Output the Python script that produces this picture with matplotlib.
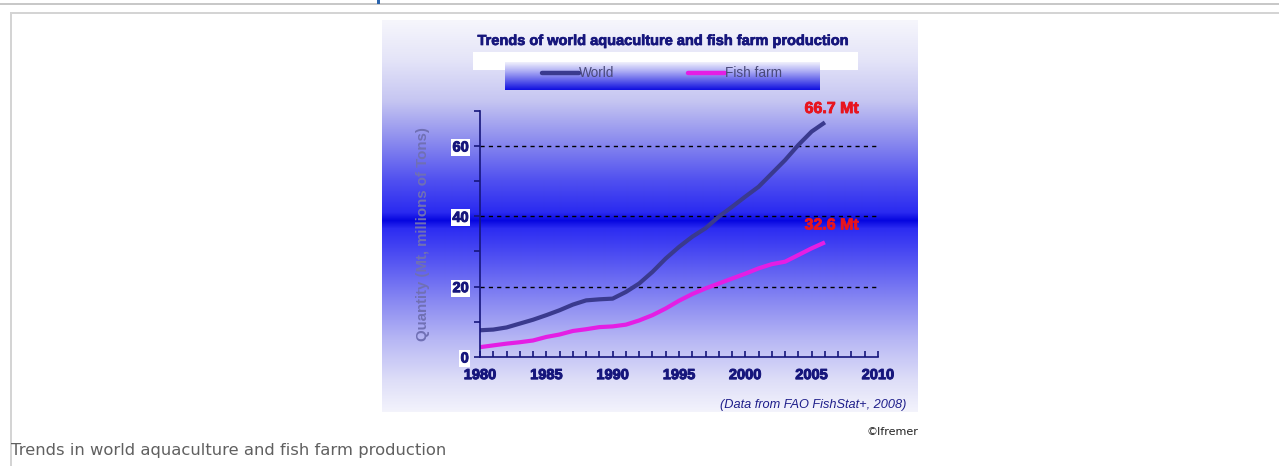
import numpy as np
import matplotlib
matplotlib.use("Agg")
import matplotlib.pyplot as plt
import matplotlib.patheffects as pe
from matplotlib.patches import Rectangle
from matplotlib.ticker import MultipleLocator

# data (million tons)
years = list(range(1980, 2007))
world = [7.6, 7.8, 8.4, 9.5, 10.6, 11.9, 13.3, 14.9, 16.1, 16.4, 16.6, 18.5,
         20.9, 24.2, 28.0, 31.3, 34.2, 36.6, 39.9, 42.7, 45.6, 48.4, 52.2,
         56.0, 60.3, 64.1, 66.7]
fish_farm = [2.8, 3.3, 3.8, 4.2, 4.7, 5.7, 6.4, 7.4, 7.9, 8.5, 8.7, 9.2, 10.4,
             11.9, 13.8, 16.0, 17.9, 19.5, 20.9, 22.3, 23.7, 25.2, 26.4, 27.1,
             29.0, 30.9, 32.6]
series_names = ["World", "Fish farm"]
end_labels = ["66.7 Mt", "32.6 Mt"]
x_ticks = [1980, 1985, 1990, 1995, 2000, 2005, 2010]
y_ticks = [0, 20, 40, 60]

W, H = 1279, 466
NAVY = "#16167c"
WORLD_C = "#3a3a8e"
FISH_C = "#e41ee4"
RED = "#e8141e"
ARIAL = ["Liberation Sans", "DejaVu Sans"]


def heavy(color, w=0.7):
    # thicken bold text a bit, the original uses a black-weight face
    return [pe.withStroke(linewidth=w, foreground=color)]


fig = plt.figure(figsize=(W / 100, H / 100), dpi=100)
fig.patch.set_facecolor("white")


def fig_rect(x0, y0, x1, y1):
    # pixel box (top-left origin) -> figure fraction rect
    return [x0 / W, 1 - y1 / H, (x1 - x0) / W, (y1 - y0) / H]


# page overlay (lines of the web page around the image)
page = fig.add_axes([0, 0, 1, 1], zorder=0)
page.set_xlim(0, W)
page.set_ylim(H, 0)
page.axis("off")
page.add_patch(Rectangle((0, 3), W, 2, color="#c8c8c8", lw=0))
page.add_patch(Rectangle((377, 0), 2.5, 3.5, color="#2a64ad", lw=0))
page.add_patch(Rectangle((10, 12), W - 10, 1.6, color="#d4d4d4", lw=0))
page.add_patch(Rectangle((10, 12), 1.6, H - 12, color="#d4d4d4", lw=0))
page.text(918, 432, "\u00a9Ifremer", fontsize=8, color="#222222",
          ha="right", va="center", family="DejaVu Sans")
page.text(11, 451, "Trends in world aquaculture and fish farm production",
          fontsize=11.8, color="#606060", ha="left", va="center",
          family="DejaVu Sans")

# chart picture background: vertical gradient
bx0, by0, bx1, by1 = 382, 20, 917, 412
bg = fig.add_axes(fig_rect(bx0, by0, bx1, by1), zorder=1)
stops_y = [20, 60, 100, 140, 180, 212, 220, 228, 260, 300, 340, 380, 412]
stops_c = ["#f6f6fc", "#e4e4f8", "#c6c6f2", "#8c8cee", "#5050f0", "#2a2af0",
           "#0606e0", "#2c2cf2", "#5454f2", "#8888f2", "#b8b8f4", "#dedef8",
           "#f4f4fc"]
rows = np.arange(by0, by1)
rgb = np.array([matplotlib.colors.to_rgb(c) for c in stops_c])
grad = np.stack([np.interp(rows, stops_y, rgb[:, k]) for k in range(3)], axis=-1)
bg.imshow(grad[:, None, :], aspect="auto", interpolation="bilinear",
          extent=[0, 1, 1, 0])
bg.axis("off")

# title strip and legend box
deco = fig.add_axes([0, 0, 1, 1], zorder=2)
deco.axis("off")
deco.add_patch(Rectangle((473, 52), 385, 18, color="white", lw=0, zorder=-1))
deco.text(664, 41, "Trends of world aquaculture and fish farm production",
          fontsize=10.5, fontweight="bold", color=NAVY, ha="center",
          va="center", family=ARIAL, path_effects=heavy(NAVY, 0.5))
lg_rows = np.linspace(0, 1, 60)
lg = np.stack([np.interp(lg_rows, [0, 0.35, 1], [a, b, c]) for a, b, c in
               zip(matplotlib.colors.to_rgb("#f0f0fc"),
                   matplotlib.colors.to_rgb("#a8a8f4"),
                   matplotlib.colors.to_rgb("#1010e0"))], axis=-1)
deco.imshow(lg[:, None, :], aspect="auto", extent=[505, 820, 90, 62],
            interpolation="bilinear", zorder=0)
deco.set_xlim(0, W)
deco.set_ylim(H, 0)
legend_x = [(542, 579), (688, 725)]
for (lx0, lx1), name, col in zip(legend_x, series_names, [WORLD_C, FISH_C]):
    deco.plot([lx0, lx1], [73, 73], color=col, lw=3.2, solid_capstyle="round")
    deco.text(lx1, 73, name, fontsize=9.8, color="#4a4a7a", ha="left",
              va="center", family=ARIAL)
deco.text(906, 405, "(Data from FAO FishStat+, 2008)", fontsize=9.2,
          style="italic", color="#1e1e8a", ha="right", va="center",
          family=ARIAL)

# main plot
ax = fig.add_axes(fig_rect(480, 110.8, 878, 357), zorder=3)
ax.patch.set_alpha(0)
ax.plot(years, world, color=WORLD_C, lw=3.0, solid_capstyle="butt")
ax.plot(years, fish_farm, color=FISH_C, lw=3.0, solid_capstyle="butt")
ax.set_xlim(1980, 2010)
ax.set_ylim(0, 70)
for yv in y_ticks[1:]:
    ax.axhline(yv, color="black", lw=1, ls=(0, (3, 3)), zorder=0)
ax.set_xticks(x_ticks)
ax.xaxis.set_minor_locator(MultipleLocator(1))
ax.set_yticks(y_ticks)
ax.yaxis.set_minor_locator(MultipleLocator(10))
for s in ["top", "right"]:
    ax.spines[s].set_visible(False)
for s in ["left", "bottom"]:
    ax.spines[s].set_color(NAVY)
    ax.spines[s].set_linewidth(1.2)
ax.tick_params(axis="x", which="both", direction="in", length=4,
               color=NAVY, width=1.2, pad=8)
ax.tick_params(axis="y", which="both", direction="out", length=4,
               color=NAVY, width=1.2, pad=4)
for lab in ax.get_xticklabels() + ax.get_yticklabels():
    lab.set_fontfamily(ARIAL)
    lab.set_fontweight("bold")
    lab.set_fontsize(10.5)
    lab.set_color(NAVY)
    lab.set_path_effects(heavy(NAVY))
for lab in ax.get_yticklabels():
    lab.set_bbox(dict(facecolor="white", edgecolor="none", pad=1))
ax.set_ylabel("Quantity (Mt, millions of Tons)", fontsize=10.8,
              fontweight="bold", color="#7070b4", family=ARIAL, labelpad=16)
ax.annotate(end_labels[0], (years[-1], world[-1]), xytext=(5, 10),
            textcoords="offset points", ha="center", va="center",
            fontsize=11.5, fontweight="bold", color=RED, family=ARIAL,
            path_effects=heavy(RED, 0.6))
ax.annotate(end_labels[1], (years[-1], fish_farm[-1]), xytext=(5, 12.5),
            textcoords="offset points", ha="center", va="center",
            fontsize=11.5, fontweight="bold", color=RED, family=ARIAL,
            path_effects=heavy(RED, 0.6))

fig.savefig("out.png", dpi=100)
